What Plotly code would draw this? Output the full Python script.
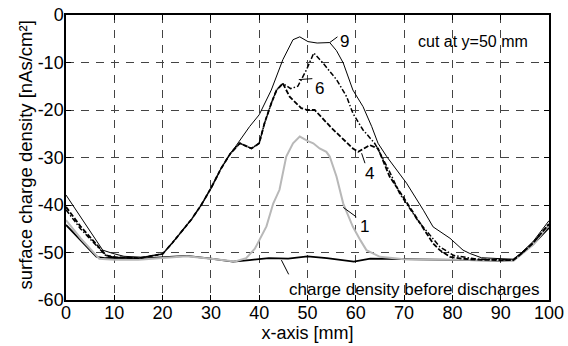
import plotly.graph_objects as go

# ---- data (x in mm, surface charge density in nAs/cm^2) ----
x_before = [0, 3, 6.3, 8, 10, 15, 20, 25, 30, 34.6, 38, 42, 46, 50, 54, 59.6, 63, 70, 75, 80, 85, 90, 92.6, 94, 96.7, 100]
y_before = [-44.2, -47.3, -50.9, -51.2, -51.1, -51.3, -51.0, -50.7, -51.3, -51.9, -51.6, -51.2, -51.3, -50.8, -51.2,
            -51.9, -51.3, -51.4, -51.5, -51.6, -51.6, -51.7, -51.6, -50.5, -48.3, -44.8]

x_1 = [0, 3, 6.9, 10, 15, 20, 25, 30, 35, 37.3, 39.1, 41.5, 42.9, 44.2, 45.6, 47, 48.4, 50, 51.2, 52.5, 53.9,
       54.6, 56, 57.4, 59.4, 61, 62.2, 65, 70, 80, 90, 92.6, 94, 96.7, 100]
y_1 = [-43.2, -47.0, -51.3, -51.5, -51.5, -51.2, -50.8, -51.3, -51.9, -51.2, -49.2, -44.5, -39.7, -36.8, -29.8,
       -27.0, -25.6, -26.5, -27.0, -28.1, -28.8, -29.8, -34.0, -39.7, -44.6, -47.5, -49.5, -50.9, -51.4, -51.5,
       -51.6, -51.8, -50.7, -48.4, -44.2]

x_4 = [0, 3, 8.3, 10, 15, 20, 22, 24, 26, 28, 30, 32, 34, 36, 38.4, 40, 41.1, 42.5, 43.6, 44.9, 46.3, 48.7,
       50, 51.5, 55, 59.4, 60.5, 61.5, 62.9, 64.6, 67, 69.8, 73.3, 76, 77.4, 79.5, 82, 85, 90, 92.6, 94, 96.7, 100]
y_4 = [-40.4, -44.5, -50.6, -51.0, -51.2, -50.3, -48.0, -45.5, -43.0, -40.0, -36.5, -32.5, -29.2, -27.0, -28.1,
       -27.0, -22.8, -18.6, -15.8, -14.4, -17.2, -19.6, -20.0, -20.0, -23.8, -28.1, -28.8, -28.2, -27.4, -28.1,
       -34.0, -38.3, -43.9, -48.1, -49.5, -50.9, -51.3, -51.5, -51.6, -51.6, -50.5, -48.0, -44.0]

x_6 = [0, 3, 8.3, 10, 15, 20, 22, 24, 26, 28, 30, 32, 34, 36, 38.4, 40, 41.1, 42.5, 43.6, 44.9, 46.5, 48,
       49.8, 51.3, 53.2, 56, 58.1, 59.4, 61.5, 63.9, 64.3, 67, 69.1, 73, 77.4, 80.2, 85, 90, 92.6, 94, 96.7, 100]
y_6 = [-41.0, -45.0, -50.7, -51.0, -51.2, -50.3, -48.0, -45.5, -43.0, -40.0, -36.5, -32.5, -29.2, -27.0, -28.1,
       -27.0, -22.8, -18.6, -15.8, -14.4, -15.5, -15.0, -11.5, -8.0, -10.1, -13.6, -17.2, -20.7, -24.2, -27.0,
       -27.7, -33.0, -37.6, -43.5, -48.8, -50.6, -51.4, -51.5, -51.6, -50.5, -48.0, -44.0]

x_9 = [0, 3, 7.6, 9.7, 12, 16, 20, 22, 24, 26, 28, 30, 32, 34, 35.3, 38, 40, 41.5, 42.5, 44.9, 47, 48.4, 50.1,
       52, 54.6, 56, 57.4, 59.4, 61.5, 63.3, 64.6, 66.4, 70.5, 74, 76, 79.5, 82.2, 83.6, 86, 90, 92.6, 94, 96.7, 100]
y_9 = [-37.9, -42.5, -49.5, -50.2, -50.8, -51.0, -50.3, -48.0, -45.5, -43.0, -40.0, -36.5, -32.5, -29.2, -27.4,
       -23.5, -21.0, -17.9, -15.8, -9.4, -5.2, -4.6, -5.6, -5.9, -5.8, -7.5, -10.1, -15.8, -19.3, -23.5, -27.0,
       -29.8, -35.4, -41.1, -44.6, -47.0, -49.5, -50.2, -51.1, -51.3, -51.4, -50.3, -47.7, -43.3]

x_ticks = [0, 10, 20, 30, 40, 50, 60, 70, 80, 90, 100]
y_ticks = [0, -10, -20, -30, -40, -50, -60]

FONT = "Liberation Sans, Arial, Helvetica, sans-serif"

fig = go.Figure()
fig.add_trace(go.Scatter(x=x_before, y=y_before, mode="lines", line=dict(color="black", width=1.8)))
fig.add_trace(go.Scatter(x=x_1, y=y_1, mode="lines", line=dict(color="#b8b8b8", width=2)))
fig.add_trace(go.Scatter(x=x_4, y=y_4, mode="lines", line=dict(color="black", width=1.8, dash="5px,2px")))
fig.add_trace(go.Scatter(x=x_6, y=y_6, mode="lines", line=dict(color="black", width=1.5, dash="5px,2px,1.5px,2px")))
fig.add_trace(go.Scatter(x=x_9, y=y_9, mode="lines", line=dict(color="black", width=1)))

# leader lines and labels
leaders = [((54.6, -5.8), (56.2, -4.6)),
           ((48.2, -13.6), (51.0, -13.4)),
           ((61.2, -29.1), (61.9, -31.2)),
           ((57.4, -40.5), (60.1, -42.5)),
           ((44.6, -51.6), (46.1, -54.6))]
for (xa, ya), (xb, yb) in leaders:
    fig.add_shape(type="line", x0=xa, y0=ya, x1=xb, y1=yb, xref="x", yref="y",
                  line=dict(color="black", width=1))

labels = [(57.6, -5.5, "9", "center", 17), (52.5, -15.5, "6", "center", 17), (62.9, -33.3, "4", "center", 17),
          (61.9, -44.6, "1", "center", 17), (45.7, -57.7, "charge density before discharges", "left", 17),
          (84.3, -5.6, "cut at y=50 mm", "center", 16)]
for xl, yl, t, anc, fs in labels:
    fig.add_annotation(x=xl, y=yl, text=t, showarrow=False, xanchor=anc, yanchor="middle",
                       font=dict(family=FONT, size=fs, color="black"), xref="x", yref="y")

# y-axis title placed as rotated text
fig.add_annotation(x=-0.083, y=0.51, xref="paper", yref="paper", text="surface charge density [nAs/cm²]",
                   textangle=-90, showarrow=False, xanchor="center", yanchor="middle",
                   font=dict(family=FONT, size=18.5, color="black"))

axis_common = dict(showline=True, linecolor="black", linewidth=1.5, mirror="ticks",
                   ticks="inside", ticklen=5, tickcolor="black", tickwidth=1,
                   showgrid=True, gridcolor="#444444", gridwidth=1, griddash="8px,7px",
                   zeroline=False, ticklabeloverflow="allow",
                   tickfont=dict(family=FONT, size=18, color="black"))

fig.update_xaxes(range=[0, 100], tickvals=x_ticks, ticktext=[str(v) for v in x_ticks],
                 title=dict(text="x-axis [mm]", font=dict(family=FONT, size=18, color="black"), standoff=0),
                 ticklabelstandoff=-4, **axis_common)
fig.update_yaxes(range=[-60, 0], tickvals=y_ticks, ticktext=[str(v) for v in y_ticks],
                 ticklabelstandoff=-3, **axis_common)

fig.update_layout(width=568, height=346, margin=dict(l=66, r=19, t=15, b=46, autoexpand=False),
                  paper_bgcolor="white", plot_bgcolor="white", showlegend=False,
                  font=dict(family=FONT, color="black"))

fig.write_html("out.html", config={"displayModeBar": False},
               post_script="document.body.style.margin='0';document.body.style.overflow='hidden';")
